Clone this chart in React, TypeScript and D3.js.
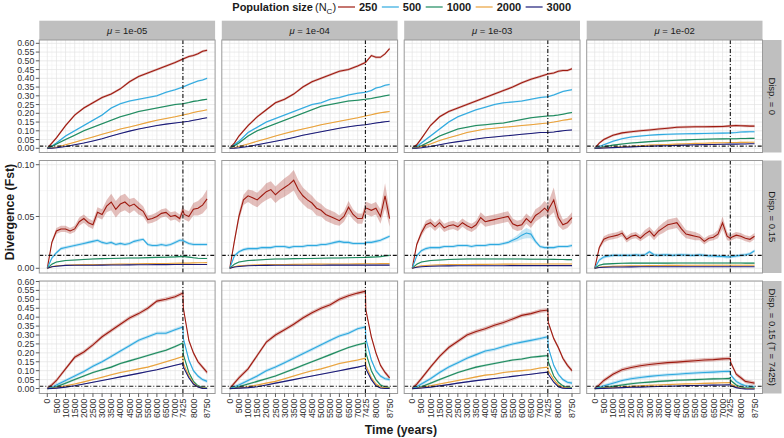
import React from "react";
import * as d3 from "d3";

// ---------- labels ----------
const sizes = ["250", "500", "1000", "2000", "3000"];
const colors = ["#9E1A10", "#2EA9DF", "#1C8A5E", "#E9A23B", "#1B1B78"];
const muLabels = ["1e-05", "1e-04", "1e-03", "1e-02"];
const dispLabels = ["Disp. = 0", "Disp. = 0.15", "Disp. = 0.15 (T = 7425)"];
const xTicks = [0, 500, 1000, 1500, 2000, 2500, 3000, 3500, 4000, 4500, 5000, 5500, 6000, 6500, 7000, 7425, 8000, 8750];
const yTicksWide = [0, 0.05, 0.1, 0.15, 0.2, 0.25, 0.3, 0.35, 0.4, 0.45, 0.5, 0.55, 0.6];
const yTicksNarrow = [0, 0.05, 0.1];
const splitTime = 7425;
const baseLevel = 0.0125;

// ---------- time grids ----------
const timesA = [0, 250, 500, 1000, 1500, 2000, 2500, 3000, 3500, 4000, 4500, 5000, 5500, 6000, 6500, 7000, 7425, 7750, 8000, 8250, 8500, 8750];
const timesB = [0, 250, 500, 750, 1000, 1250, 1500, 1750, 2000, 2250, 2500, 2750, 3000, 3250, 3500, 3750, 4000, 4250, 4500, 4750, 5000, 5250, 5500, 5750, 6000, 6250, 6500, 6750, 7000, 7250, 7425, 7500, 7750, 8000, 8250, 8500, 8750];
const timesC = [0, 250, 500, 1000, 1500, 2000, 2500, 3000, 3500, 4000, 4500, 5000, 5500, 6000, 6500, 7000, 7425, 7450, 7750, 8000, 8250, 8500, 8750];

// ---------- row 1 : Disp. = 0 (timesA) ----------
const r1c1_250 = [0, 0.03, 0.06, 0.13, 0.19, 0.23, 0.26, 0.29, 0.31, 0.34, 0.38, 0.41, 0.43, 0.45, 0.47, 0.49, 0.51, 0.525, 0.53, 0.54, 0.555, 0.56];
const r1c1_500 = [0, 0.012, 0.03, 0.07, 0.10, 0.13, 0.16, 0.19, 0.23, 0.255, 0.27, 0.28, 0.29, 0.30, 0.32, 0.335, 0.35, 0.365, 0.375, 0.385, 0.39, 0.40];
const r1c1_1000 = [0, 0.01, 0.025, 0.05, 0.075, 0.10, 0.12, 0.14, 0.16, 0.18, 0.195, 0.21, 0.22, 0.23, 0.24, 0.25, 0.255, 0.262, 0.268, 0.272, 0.277, 0.28];
const r1c1_2000 = [0, 0.002, 0.006, 0.02, 0.035, 0.05, 0.065, 0.08, 0.095, 0.11, 0.122, 0.135, 0.148, 0.16, 0.17, 0.18, 0.19, 0.197, 0.205, 0.21, 0.215, 0.22];
const r1c1_3000 = [0, 0.001, 0.003, 0.01, 0.02, 0.03, 0.042, 0.055, 0.07, 0.085, 0.098, 0.11, 0.12, 0.13, 0.138, 0.145, 0.15, 0.155, 0.16, 0.165, 0.17, 0.175];

const r1c2_250 = [0, 0.03, 0.07, 0.13, 0.18, 0.22, 0.26, 0.28, 0.31, 0.35, 0.38, 0.40, 0.42, 0.44, 0.45, 0.47, 0.49, 0.53, 0.52, 0.52, 0.54, 0.57];
const r1c2_500 = [0, 0.02, 0.04, 0.09, 0.12, 0.15, 0.17, 0.19, 0.21, 0.23, 0.25, 0.26, 0.28, 0.29, 0.305, 0.315, 0.32, 0.33, 0.345, 0.35, 0.36, 0.365];
const r1c2_1000 = [0, 0.015, 0.03, 0.07, 0.10, 0.12, 0.14, 0.16, 0.18, 0.20, 0.22, 0.24, 0.25, 0.26, 0.27, 0.275, 0.28, 0.285, 0.29, 0.295, 0.30, 0.305];
const r1c2_2000 = [0, 0.003, 0.01, 0.025, 0.04, 0.055, 0.07, 0.085, 0.098, 0.11, 0.122, 0.135, 0.145, 0.155, 0.165, 0.175, 0.185, 0.192, 0.198, 0.203, 0.207, 0.21];
const r1c2_3000 = [0, 0.001, 0.003, 0.01, 0.02, 0.03, 0.04, 0.05, 0.062, 0.075, 0.085, 0.095, 0.105, 0.115, 0.123, 0.13, 0.135, 0.14, 0.145, 0.148, 0.152, 0.155];

const r1c3_250 = [0, 0.02, 0.055, 0.13, 0.18, 0.21, 0.23, 0.25, 0.27, 0.29, 0.31, 0.33, 0.35, 0.375, 0.395, 0.41, 0.425, 0.43, 0.44, 0.445, 0.445, 0.455];
const r1c3_500 = [0, 0.01, 0.03, 0.07, 0.11, 0.15, 0.18, 0.20, 0.22, 0.235, 0.25, 0.26, 0.265, 0.27, 0.28, 0.29, 0.295, 0.305, 0.315, 0.325, 0.33, 0.335];
const r1c3_1000 = [0, 0.005, 0.015, 0.04, 0.07, 0.09, 0.11, 0.12, 0.13, 0.135, 0.14, 0.145, 0.155, 0.165, 0.175, 0.18, 0.185, 0.187, 0.19, 0.195, 0.2, 0.205];
const r1c3_2000 = [0, 0.003, 0.01, 0.025, 0.045, 0.06, 0.075, 0.09, 0.10, 0.11, 0.115, 0.12, 0.125, 0.13, 0.135, 0.14, 0.145, 0.15, 0.155, 0.16, 0.164, 0.168];
const r1c3_3000 = [0, 0.001, 0.003, 0.01, 0.02, 0.03, 0.038, 0.045, 0.053, 0.06, 0.065, 0.07, 0.075, 0.08, 0.085, 0.09, 0.09, 0.093, 0.097, 0.1, 0.103, 0.105];

const r1c4_250 = [0, 0.03, 0.05, 0.075, 0.088, 0.095, 0.10, 0.105, 0.11, 0.115, 0.12, 0.122, 0.123, 0.123, 0.124, 0.125, 0.128, 0.13, 0.129, 0.128, 0.127, 0.127];
const r1c4_500 = [0, 0.01, 0.02, 0.04, 0.055, 0.065, 0.07, 0.075, 0.078, 0.08, 0.082, 0.083, 0.084, 0.085, 0.086, 0.087, 0.088, 0.09, 0.093, 0.094, 0.095, 0.095];
const r1c4_1000 = [0, 0.003, 0.008, 0.018, 0.025, 0.03, 0.034, 0.038, 0.041, 0.043, 0.046, 0.048, 0.05, 0.052, 0.053, 0.054, 0.055, 0.055, 0.056, 0.056, 0.057, 0.057];
const r1c4_2000 = [0, 0.001, 0.003, 0.006, 0.009, 0.012, 0.015, 0.018, 0.02, 0.022, 0.024, 0.026, 0.028, 0.029, 0.031, 0.032, 0.033, 0.033, 0.034, 0.034, 0.035, 0.035];
const r1c4_3000 = [0, 0.001, 0.002, 0.004, 0.006, 0.008, 0.01, 0.012, 0.014, 0.015, 0.017, 0.018, 0.02, 0.021, 0.022, 0.023, 0.024, 0.024, 0.025, 0.025, 0.026, 0.026];

// ---------- row 2 : Disp. = 0.15 (250/500 on timesB, others on timesA) ----------
const r2c1_250 = [0, 0.025, 0.036, 0.038, 0.038, 0.036, 0.038, 0.045, 0.048, 0.044, 0.042, 0.054, 0.052, 0.060, 0.064, 0.057, 0.062, 0.064, 0.060, 0.062, 0.058, 0.055, 0.047, 0.048, 0.050, 0.053, 0.054, 0.050, 0.051, 0.048, 0.056, 0.052, 0.050, 0.057, 0.058, 0.061, 0.067];
const r2c1_500 = [0, 0.01, 0.015, 0.019, 0.020, 0.021, 0.022, 0.023, 0.024, 0.025, 0.026, 0.027, 0.025, 0.024, 0.025, 0.023, 0.024, 0.023, 0.024, 0.026, 0.027, 0.028, 0.023, 0.022, 0.022, 0.023, 0.022, 0.023, 0.025, 0.027, 0.027, 0.026, 0.024, 0.023, 0.023, 0.023, 0.023];
const r2c1_1000 = [0, 0.004, 0.006, 0.0075, 0.008, 0.0085, 0.009, 0.0093, 0.0095, 0.0097, 0.01, 0.01, 0.0103, 0.0105, 0.0107, 0.011, 0.0115, 0.0108, 0.0102, 0.0097, 0.0095, 0.0095];
const r2c1_2000 = [0, 0.0015, 0.0025, 0.003, 0.0033, 0.0035, 0.0035, 0.0037, 0.0038, 0.004, 0.0041, 0.0043, 0.0045, 0.0045, 0.0047, 0.0049, 0.005, 0.005, 0.0052, 0.0053, 0.0054, 0.0055];
const r2c1_3000 = [0, 0.0015, 0.002, 0.0028, 0.003, 0.003, 0.003, 0.0031, 0.0032, 0.0032, 0.0033, 0.0034, 0.0034, 0.0035, 0.0035, 0.0036, 0.0036, 0.0036, 0.0036, 0.0036, 0.0036, 0.0036];
const r2c1_250band = [0, 0.002, 0.003, 0.003, 0.003, 0.003, 0.003, 0.004, 0.004, 0.004, 0.004, 0.005, 0.005, 0.006, 0.008, 0.008, 0.008, 0.008, 0.007, 0.006, 0.006, 0.005, 0.004, 0.004, 0.004, 0.004, 0.004, 0.004, 0.004, 0.004, 0.005, 0.005, 0.005, 0.006, 0.007, 0.008, 0.009];

const r2c2_250 = [0, 0.026, 0.05, 0.066, 0.070, 0.068, 0.066, 0.070, 0.074, 0.076, 0.071, 0.075, 0.078, 0.081, 0.085, 0.076, 0.070, 0.066, 0.063, 0.058, 0.056, 0.052, 0.050, 0.048, 0.046, 0.050, 0.059, 0.052, 0.048, 0.048, 0.058, 0.058, 0.056, 0.058, 0.050, 0.070, 0.048];
const r2c2_500 = [0, 0.012, 0.016, 0.018, 0.019, 0.019, 0.019, 0.020, 0.020, 0.020, 0.021, 0.021, 0.021, 0.020, 0.021, 0.021, 0.021, 0.022, 0.022, 0.022, 0.023, 0.023, 0.024, 0.025, 0.026, 0.025, 0.025, 0.024, 0.024, 0.024, 0.024, 0.025, 0.025, 0.026, 0.027, 0.029, 0.031];
const r2c2_1000 = [0, 0.004, 0.006, 0.0075, 0.008, 0.0085, 0.009, 0.009, 0.0093, 0.0094, 0.0095, 0.0097, 0.0099, 0.01, 0.0102, 0.0104, 0.0105, 0.0108, 0.011, 0.0113, 0.012, 0.0125];
const r2c2_2000 = [0, 0.0015, 0.0025, 0.003, 0.0033, 0.0035, 0.0036, 0.0037, 0.0038, 0.0039, 0.004, 0.004, 0.0041, 0.0042, 0.0042, 0.0043, 0.0044, 0.0044, 0.0044, 0.0045, 0.0045, 0.0045];
const r2c2_3000 = [0, 0.0012, 0.0018, 0.0024, 0.0027, 0.0028, 0.0029, 0.003, 0.003, 0.003, 0.003, 0.003, 0.0031, 0.0031, 0.0031, 0.0031, 0.0031, 0.0031, 0.0031, 0.0031, 0.0031, 0.0031];
const r2c2_250band = [0, 0.003, 0.004, 0.005, 0.006, 0.007, 0.007, 0.007, 0.008, 0.008, 0.008, 0.008, 0.009, 0.009, 0.010, 0.009, 0.008, 0.008, 0.007, 0.007, 0.006, 0.006, 0.006, 0.006, 0.005, 0.005, 0.006, 0.005, 0.005, 0.005, 0.006, 0.006, 0.006, 0.006, 0.007, 0.012, 0.008];

const r2c3_250 = [0, 0.023, 0.034, 0.042, 0.044, 0.040, 0.044, 0.039, 0.041, 0.042, 0.040, 0.044, 0.041, 0.039, 0.042, 0.049, 0.045, 0.046, 0.047, 0.048, 0.049, 0.050, 0.043, 0.041, 0.042, 0.048, 0.044, 0.051, 0.054, 0.058, 0.055, 0.058, 0.066, 0.049, 0.042, 0.044, 0.049];
const r2c3_500 = [0, 0.012, 0.017, 0.019, 0.020, 0.020, 0.020, 0.021, 0.021, 0.021, 0.022, 0.022, 0.022, 0.021, 0.022, 0.022, 0.022, 0.023, 0.023, 0.023, 0.024, 0.025, 0.027, 0.029, 0.032, 0.034, 0.033, 0.026, 0.021, 0.020, 0.020, 0.020, 0.020, 0.021, 0.021, 0.021, 0.022];
const r2c3_1000 = [0, 0.004, 0.006, 0.0075, 0.008, 0.0085, 0.0088, 0.009, 0.009, 0.009, 0.009, 0.009, 0.009, 0.009, 0.0088, 0.0088, 0.0087, 0.0086, 0.0085, 0.0085, 0.0084, 0.0084];
const r2c3_2000 = [0, 0.0015, 0.0025, 0.003, 0.0033, 0.0035, 0.0036, 0.0037, 0.0038, 0.0038, 0.0039, 0.004, 0.004, 0.0041, 0.0041, 0.0042, 0.0042, 0.0042, 0.0042, 0.0042, 0.0042, 0.0042];
const r2c3_3000 = [0, 0.001, 0.0015, 0.002, 0.0022, 0.0023, 0.0024, 0.0025, 0.0025, 0.0025, 0.0025, 0.0025, 0.0026, 0.0026, 0.0026, 0.0026, 0.0026, 0.0026, 0.0026, 0.0026, 0.0026, 0.0026];
const r2c3_250band = [0, 0.002, 0.003, 0.004, 0.004, 0.004, 0.004, 0.004, 0.004, 0.004, 0.004, 0.004, 0.004, 0.004, 0.004, 0.005, 0.005, 0.005, 0.005, 0.005, 0.005, 0.005, 0.005, 0.005, 0.005, 0.005, 0.005, 0.006, 0.006, 0.007, 0.007, 0.008, 0.012, 0.008, 0.005, 0.005, 0.005];
const r2c3_500band = [0, 0.0015, 0.0015, 0.0015, 0.0015, 0.0015, 0.0015, 0.0015, 0.0015, 0.0015, 0.0015, 0.0015, 0.0015, 0.0015, 0.0015, 0.0015, 0.0015, 0.0015, 0.0015, 0.0015, 0.0015, 0.0015, 0.002, 0.003, 0.004, 0.005, 0.004, 0.002, 0.0015, 0.0015, 0.0015, 0.0015, 0.0015, 0.0015, 0.0015, 0.0015, 0.0015];

const r2c4_250 = [0, 0.020, 0.028, 0.030, 0.031, 0.032, 0.034, 0.028, 0.031, 0.032, 0.029, 0.033, 0.036, 0.031, 0.036, 0.039, 0.042, 0.043, 0.044, 0.038, 0.033, 0.032, 0.031, 0.030, 0.026, 0.029, 0.030, 0.033, 0.044, 0.031, 0.029, 0.030, 0.032, 0.031, 0.029, 0.028, 0.031];
const r2c4_500 = [0, 0.008, 0.011, 0.012, 0.0125, 0.0125, 0.0125, 0.0125, 0.0125, 0.013, 0.0125, 0.013, 0.016, 0.013, 0.0125, 0.013, 0.013, 0.0125, 0.0128, 0.013, 0.0128, 0.0125, 0.0125, 0.013, 0.0125, 0.012, 0.012, 0.0115, 0.0115, 0.011, 0.011, 0.0112, 0.012, 0.0125, 0.013, 0.014, 0.017];
const r2c4_1000 = [0, 0.003, 0.004, 0.0045, 0.0048, 0.005, 0.005, 0.005, 0.005, 0.005, 0.0051, 0.0051, 0.0051, 0.0051, 0.0051, 0.0051, 0.0051, 0.0051, 0.0051, 0.005, 0.005, 0.005];
const r2c4_2000 = [0, 0.001, 0.0015, 0.002, 0.0022, 0.0024, 0.0025, 0.0026, 0.0027, 0.0028, 0.0028, 0.0029, 0.0029, 0.003, 0.003, 0.003, 0.003, 0.003, 0.003, 0.003, 0.003, 0.003];
const r2c4_3000 = [0, 0.0008, 0.001, 0.0012, 0.0013, 0.0014, 0.0015, 0.0015, 0.0015, 0.0015, 0.0015, 0.0015, 0.0015, 0.0015, 0.0015, 0.0015, 0.0015, 0.0015, 0.0015, 0.0015, 0.0015, 0.0015];
const r2c4_250band = [0, 0.002, 0.003, 0.003, 0.003, 0.003, 0.003, 0.003, 0.003, 0.003, 0.003, 0.004, 0.004, 0.004, 0.004, 0.005, 0.005, 0.005, 0.005, 0.005, 0.004, 0.004, 0.004, 0.003, 0.003, 0.003, 0.003, 0.004, 0.006, 0.004, 0.003, 0.003, 0.003, 0.003, 0.003, 0.003, 0.003];

// ---------- row 3 : Disp. = 0.15 (T = 7425) (timesC) ----------
const r3c1_250 = [0, 0.02, 0.045, 0.11, 0.175, 0.205, 0.245, 0.29, 0.325, 0.36, 0.395, 0.42, 0.45, 0.49, 0.50, 0.515, 0.535, 0.45, 0.27, 0.20, 0.15, 0.12, 0.09];
const r3c1_500 = [0, 0.005, 0.02, 0.045, 0.07, 0.095, 0.125, 0.15, 0.18, 0.21, 0.24, 0.27, 0.29, 0.31, 0.31, 0.33, 0.345, 0.28, 0.16, 0.10, 0.07, 0.05, 0.04];
const r3c1_1000 = [0, 0.003, 0.01, 0.03, 0.05, 0.07, 0.09, 0.105, 0.12, 0.14, 0.155, 0.17, 0.185, 0.20, 0.215, 0.235, 0.255, 0.19, 0.09, 0.04, 0.015, 0.005, 0.003];
const r3c1_2000 = [0, 0.001, 0.004, 0.015, 0.025, 0.037, 0.05, 0.063, 0.077, 0.09, 0.10, 0.11, 0.12, 0.135, 0.15, 0.165, 0.18, 0.14, 0.07, 0.03, 0.01, 0.002, 0.001];
const r3c1_3000 = [0, 0.0, 0.002, 0.008, 0.015, 0.025, 0.035, 0.045, 0.055, 0.065, 0.075, 0.085, 0.095, 0.105, 0.118, 0.13, 0.14, 0.12, 0.06, 0.025, 0.008, 0.001, 0.0];

const r3c2_250 = [0, 0.03, 0.06, 0.11, 0.185, 0.26, 0.30, 0.33, 0.36, 0.395, 0.425, 0.45, 0.47, 0.50, 0.52, 0.535, 0.545, 0.44, 0.29, 0.20, 0.13, 0.09, 0.06];
const r3c2_500 = [0, 0.01, 0.02, 0.045, 0.07, 0.10, 0.12, 0.145, 0.17, 0.195, 0.22, 0.245, 0.27, 0.295, 0.31, 0.335, 0.345, 0.28, 0.16, 0.10, 0.07, 0.055, 0.05];
const r3c2_1000 = [0, 0.003, 0.01, 0.025, 0.04, 0.055, 0.07, 0.09, 0.11, 0.13, 0.15, 0.17, 0.19, 0.21, 0.23, 0.245, 0.255, 0.20, 0.10, 0.05, 0.02, 0.008, 0.005];
const r3c2_2000 = [0, 0.001, 0.003, 0.01, 0.02, 0.03, 0.04, 0.055, 0.07, 0.085, 0.10, 0.11, 0.125, 0.14, 0.15, 0.16, 0.17, 0.13, 0.06, 0.025, 0.01, 0.003, 0.002];
const r3c2_3000 = [0, 0.0, 0.002, 0.005, 0.01, 0.02, 0.03, 0.04, 0.05, 0.06, 0.07, 0.08, 0.09, 0.10, 0.11, 0.12, 0.13, 0.11, 0.05, 0.015, 0.003, 0.0, 0.0];

const r3c3_250 = [0, 0.025, 0.055, 0.12, 0.18, 0.23, 0.265, 0.30, 0.32, 0.335, 0.355, 0.37, 0.39, 0.41, 0.42, 0.435, 0.44, 0.37, 0.28, 0.23, 0.17, 0.13, 0.10];
const r3c3_500 = [0, 0.01, 0.025, 0.055, 0.09, 0.12, 0.145, 0.17, 0.19, 0.21, 0.22, 0.235, 0.25, 0.26, 0.27, 0.28, 0.29, 0.23, 0.13, 0.08, 0.05, 0.035, 0.03];
const r3c3_1000 = [0, 0.003, 0.01, 0.03, 0.05, 0.07, 0.09, 0.105, 0.12, 0.13, 0.14, 0.15, 0.16, 0.165, 0.175, 0.18, 0.185, 0.15, 0.07, 0.035, 0.015, 0.006, 0.004];
const r3c3_2000 = [0, 0.001, 0.005, 0.015, 0.025, 0.035, 0.045, 0.055, 0.065, 0.075, 0.08, 0.09, 0.095, 0.10, 0.105, 0.115, 0.12, 0.10, 0.05, 0.02, 0.007, 0.002, 0.001];
const r3c3_3000 = [0, 0.001, 0.003, 0.008, 0.015, 0.022, 0.03, 0.037, 0.044, 0.05, 0.056, 0.062, 0.068, 0.074, 0.08, 0.087, 0.092, 0.08, 0.035, 0.01, 0.002, 0.0, 0.0];

const r3c4_250 = [0, 0.02, 0.045, 0.08, 0.105, 0.118, 0.128, 0.135, 0.14, 0.145, 0.148, 0.152, 0.156, 0.16, 0.162, 0.166, 0.168, 0.145, 0.08, 0.06, 0.04, 0.035, 0.03];
const r3c4_500 = [0, 0.005, 0.015, 0.03, 0.045, 0.055, 0.062, 0.068, 0.073, 0.077, 0.08, 0.084, 0.087, 0.09, 0.092, 0.095, 0.097, 0.075, 0.04, 0.025, 0.015, 0.012, 0.01];
const r3c4_1000 = [0, 0.002, 0.005, 0.012, 0.02, 0.027, 0.032, 0.036, 0.04, 0.043, 0.046, 0.048, 0.05, 0.052, 0.054, 0.055, 0.057, 0.045, 0.02, 0.008, 0.003, 0.002, 0.002];
const r3c4_2000 = [0, 0.0, 0.002, 0.005, 0.008, 0.012, 0.015, 0.018, 0.02, 0.022, 0.024, 0.026, 0.027, 0.029, 0.03, 0.032, 0.033, 0.025, 0.01, 0.003, 0.001, 0.0, 0.0];
const r3c4_3000 = [0, 0.0, 0.001, 0.003, 0.005, 0.007, 0.008, 0.01, 0.011, 0.013, 0.014, 0.016, 0.017, 0.018, 0.019, 0.02, 0.021, 0.016, 0.005, 0.0, -0.002, -0.003, -0.003];

// confidence half-widths per population size, per row
const bandRow1 = [0.007, 0.005, 0.004, 0.003, 0.002];
const bandRow2 = [0.004, 0.0015, 0.0006, 0.0004, 0.0003];
const bandRow3 = [0.011, 0.009, 0.006, 0.004, 0.003];

type Series = { t: number[]; v: number[]; b: number | number[] };

const mk = (t: number[][], v: number[][], b: (number | number[])[]): Series[] =>
  v.map((vals, i) => ({ t: t[i], v: vals, b: b[i] }));

const tA5 = [timesA, timesA, timesA, timesA, timesA];
const tB2 = [timesB, timesB, timesA, timesA, timesA];
const tC5 = [timesC, timesC, timesC, timesC, timesC];

const grid: Series[][][] = [
  [
    mk(tA5, [r1c1_250, r1c1_500, r1c1_1000, r1c1_2000, r1c1_3000], bandRow1),
    mk(tA5, [r1c2_250, r1c2_500, r1c2_1000, r1c2_2000, r1c2_3000], bandRow1),
    mk(tA5, [r1c3_250, r1c3_500, r1c3_1000, r1c3_2000, r1c3_3000], bandRow1),
    mk(tA5, [r1c4_250, r1c4_500, r1c4_1000, r1c4_2000, r1c4_3000], bandRow1),
  ],
  [
    mk(tB2, [r2c1_250, r2c1_500, r2c1_1000, r2c1_2000, r2c1_3000], [r2c1_250band, ...bandRow2.slice(1)]),
    mk(tB2, [r2c2_250, r2c2_500, r2c2_1000, r2c2_2000, r2c2_3000], [r2c2_250band, ...bandRow2.slice(1)]),
    mk(tB2, [r2c3_250, r2c3_500, r2c3_1000, r2c3_2000, r2c3_3000], [r2c3_250band, r2c3_500band, ...bandRow2.slice(2)]),
    mk(tB2, [r2c4_250, r2c4_500, r2c4_1000, r2c4_2000, r2c4_3000], [r2c4_250band, ...bandRow2.slice(1)]),
  ],
  [
    mk(tC5, [r3c1_250, r3c1_500, r3c1_1000, r3c1_2000, r3c1_3000], bandRow3),
    mk(tC5, [r3c2_250, r3c2_500, r3c2_1000, r3c2_2000, r3c2_3000], bandRow3),
    mk(tC5, [r3c3_250, r3c3_500, r3c3_1000, r3c3_2000, r3c3_3000], bandRow3),
    mk(tC5, [r3c4_250, r3c4_500, r3c4_1000, r3c4_2000, r3c4_3000], bandRow3),
  ],
];

const rowTicks = [yTicksWide, yTicksNarrow, yTicksWide];
const rowDomains: [number, number][] = [[-0.024, 0.619], [-0.00454, 0.10405], [-0.028, 0.6028]];

// ---------- layout ----------
const W = 784, H = 438;
const colX = [39.3, 221.8, 404.2, 586.7];
const panelW = 175.8;
const rowY = [40, 160.5, 281];
const panelH = 112.5;
const stripTop = 20.7;
const stripRightX = 762.5;
const stripW = 19;
const FONT = "'Liberation Sans', Arial, Helvetica, sans-serif";
const TICK_FS = 8.8;

const mids = (a: number[]) => a.slice(1).map((v, i) => (v + a[i]) / 2);

export default function App() {
  const xDomain: [number, number] = [-437.5, 9187.5];
  const labelW = (s: string) => s.length * 0.556 * 11;

  // legend layout
  const legendKeyStart = 338;
  const legendItems: { kx: number; lx: number }[] = [];
  let cx = legendKeyStart;
  sizes.forEach((s) => {
    legendItems.push({ kx: cx, lx: cx + 21 });
    cx += 21 + labelW(s) + 4.5;
  });

  return (
    <svg
      width={W}
      height={H}
      style={{ position: "absolute", left: 0, top: 0, background: "#fff" }}
      fontFamily={FONT}
    >
      <rect x={0} y={0} width={W} height={H} fill="#fff" />
      <defs>
        {rowY.map((ry, r) =>
          colX.map((cxp, c) => (
            <clipPath id={`clip-${r}-${c}`} key={`cp${r}${c}`}>
              <rect x={cxp} y={ry} width={panelW} height={panelH} />
            </clipPath>
          ))
        )}
      </defs>

      {/* legend */}
      <text x={232.3} y={11} fontSize={11} fontWeight="bold" fill="#1a1a1a">
        Population size
        <tspan dx={2} fontWeight="normal">(N</tspan>
        <tspan fontWeight="normal" fontSize={8} dy={2.5}>C</tspan>
        <tspan fontWeight="normal" dy={-2.5}>)</tspan>
      </text>
      {sizes.map((s, i) => (
        <g key={`leg${s}`}>
          <line x1={legendItems[i].kx} x2={legendItems[i].kx + 17} y1={7} y2={7} stroke={colors[i]} strokeWidth={1.2} />
          <text x={legendItems[i].lx} y={11} fontSize={11} fontWeight="bold" fill="#1a1a1a">{s}</text>
        </g>
      ))}

      {/* top strips */}
      {colX.map((x0, c) => (
        <g key={`st${c}`}>
          <rect x={x0} y={stripTop} width={panelW} height={rowY[0] - stripTop} fill="#BFBFBF" />
          <text x={x0 + panelW / 2} y={stripTop + (rowY[0] - stripTop) / 2} dy="0.35em" fontSize={9.5} textAnchor="middle" fill="#1a1a1a">
            <tspan fontStyle="italic">μ</tspan> = {muLabels[c]}
          </text>
        </g>
      ))}

      {/* right strips */}
      {rowY.map((y0, r) => (
        <g key={`rs${r}`}>
          <rect x={stripRightX} y={y0} width={stripW} height={panelH} fill="#BFBFBF" />
          <text
            transform={`translate(${stripRightX + stripW / 2},${y0 + panelH / 2}) rotate(90)`}
            dy="0.35em"
            fontSize={9.5}
            textAnchor="middle"
            fill="#1a1a1a"
          >
            {dispLabels[r]}
          </text>
        </g>
      ))}

      {/* panels */}
      {rowY.map((y0, r) => {
        const y = d3.scaleLinear().domain(rowDomains[r]).range([y0 + panelH, y0]);
        const yt = rowTicks[r];
        const yMinor = mids(yt);
        return colX.map((x0, c) => {
          const x = d3.scaleLinear().domain(xDomain).range([x0, x0 + panelW]);
          const series = grid[r][c];
          const xMinor = mids(xTicks);
          return (
            <g key={`p${r}${c}`}>
              <rect x={x0} y={y0} width={panelW} height={panelH} fill="#fff" />
              {xMinor.map((t) => (
                <line key={`xm${t}`} x1={x(t)} x2={x(t)} y1={y0} y2={y0 + panelH} stroke="#F0F0F0" strokeWidth={0.5} />
              ))}
              {yMinor.map((v) => (
                <line key={`ym${v}`} x1={x0} x2={x0 + panelW} y1={y(v)} y2={y(v)} stroke="#F0F0F0" strokeWidth={0.5} />
              ))}
              {xTicks.map((t) => (
                <line key={`xg${t}`} x1={x(t)} x2={x(t)} y1={y0} y2={y0 + panelH} stroke="#E2E2E2" strokeWidth={0.7} />
              ))}
              {yt.map((v) => (
                <line key={`yg${v}`} x1={x0} x2={x0 + panelW} y1={y(v)} y2={y(v)} stroke="#E2E2E2" strokeWidth={0.7} />
              ))}
              <g clipPath={`url(#clip-${r}-${c})`}>
                {series.map((s, i) => {
                  const n = Math.min(s.t.length, s.v.length);
                  const idx = d3.range(n);
                  const bw = (k: number) => (Array.isArray(s.b) ? (s.b[k] ?? 0) : s.b);
                  const area = d3
                    .area<number>()
                    .x((k) => x(s.t[k]))
                    .y0((k) => y(s.v[k] - bw(k)))
                    .y1((k) => y(s.v[k] + bw(k)));
                  return <path key={`a${i}`} d={area(idx) || ""} fill={colors[i]} fillOpacity={0.28} stroke="none" />;
                })}
                {series.map((s, i) => {
                  const n = Math.min(s.t.length, s.v.length);
                  const idx = d3.range(n);
                  const line = d3
                    .line<number>()
                    .x((k) => x(s.t[k]))
                    .y((k) => y(s.v[k]));
                  return <path key={`l${i}`} d={line(idx) || ""} fill="none" stroke={colors[i]} strokeWidth={1.1} />;
                })}
                <line x1={x0} x2={x0 + panelW} y1={y(baseLevel)} y2={y(baseLevel)} stroke="#111" strokeWidth={1.1} strokeDasharray="4,2,1,2" />
                <line x1={x(splitTime)} x2={x(splitTime)} y1={y0} y2={y0 + panelH} stroke="#111" strokeWidth={1.1} strokeDasharray="4,2,1,2" />
              </g>
              <rect x={x0} y={y0} width={panelW} height={panelH} fill="none" stroke="#9A9A9A" strokeWidth={1} />

              {/* y axis on first column */}
              {c === 0 &&
                yt.map((v) => (
                  <g key={`yt${v}`}>
                    <line x1={x0 - 3.5} x2={x0} y1={y(v)} y2={y(v)} stroke="#333" strokeWidth={0.8} />
                    <text x={x0 - 5} y={y(v)} dy="0.35em" fontSize={TICK_FS} textAnchor="end" fill="#333">
                      {v.toFixed(2)}
                    </text>
                  </g>
                ))}

              {/* x axis on last row */}
              {r === rowY.length - 1 &&
                xTicks.map((t) => (
                  <g key={`xt${t}`}>
                    <line x1={x(t)} x2={x(t)} y1={y0 + panelH} y2={y0 + panelH + 3.5} stroke="#333" strokeWidth={0.8} />
                    <text
                      transform={`translate(${x(t)},${y0 + panelH + 5}) rotate(-90)`}
                      dy="0.35em"
                      fontSize={TICK_FS}
                      textAnchor="end"
                      fill="#333"
                    >
                      {t}
                    </text>
                  </g>
                ))}
            </g>
          );
        });
      })}

      {/* axis titles */}
      <text
        transform={`translate(10,212) rotate(-90)`}
        dy="0.35em"
        fontSize={12.3}
        fontWeight="bold"
        textAnchor="middle"
        fill="#1a1a1a"
      >
        Divergence (Fst)
      </text>
      <text x={(colX[0] + colX[3] + panelW) / 2} y={434} fontSize={12.3} fontWeight="bold" textAnchor="middle" fill="#1a1a1a">
        Time (years)
      </text>
    </svg>
  );
}
